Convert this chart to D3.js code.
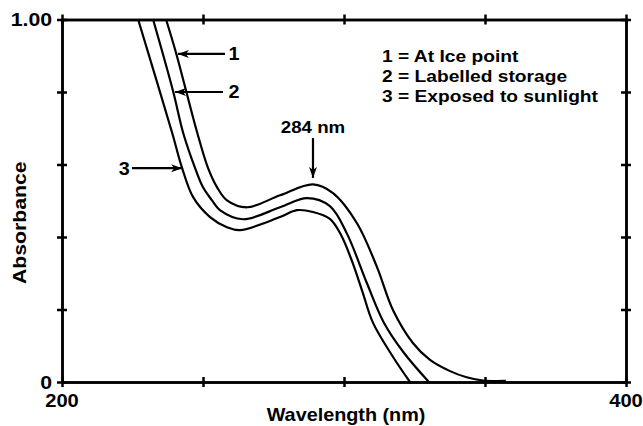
<!DOCTYPE html>
<html><head><meta charset="utf-8">
<script src="https://cdn.jsdelivr.net/npm/d3@7"></script>
<style>
body{margin:0;background:#fff}
svg{display:block}
text{font-family:"Liberation Sans",Arial,Helvetica,sans-serif;font-weight:bold;fill:#000}
</style>
</head><body><svg id="c" width="643" height="426"></svg>
<script>
// ---- data ----
const xTicks = [200, 250, 300, 350, 400];
const yTicks = [0, 0.2, 0.4, 0.6, 0.8, 1.0];
const xTickLabels = ["200", "", "", "", "400"];
const yTickLabels = ["0", "", "", "", "", "1.00"];
const seriesNames = ["1", "2", "3"];
const legendLabels = ["1 = At Ice point", "2 = Labelled storage", "3 = Exposed to sunlight"];
const xTitle = "Wavelength (nm)";
const yTitle = "Absorbance";
const peakLabel = "284 nm";

// series 1: At Ice point
const wl1  = [236.9, 240.4, 247.9, 251.8, 255.0, 258.5, 265.6, 277.3, 289.0, 296.1, 304.6, 311.7, 317.4, 324.5, 330.5, 337.6, 343.5, 349.3, 357.4];
const abs1 = [1.00, 0.909, 0.689, 0.590, 0.537, 0.501, 0.482, 0.515, 0.545, 0.521, 0.438, 0.317, 0.198, 0.107, 0.061, 0.030, 0.013, 0.004, 0.003];
// series 2: Labelled storage
const wl2  = [232.3, 239.4, 242.9, 247.2, 250.0, 253.2, 256.0, 264.2, 277.3, 286.9, 295.0, 301.0, 308.1, 314.2, 321.3, 330.1];
const abs2 = [1.00, 0.802, 0.689, 0.590, 0.537, 0.501, 0.474, 0.449, 0.482, 0.507, 0.485, 0.410, 0.273, 0.163, 0.080, 0.0];
// series 3: Exposed to sunlight
const wl3  = [227.0, 239.0, 242.6, 246.5, 252.5, 258.5, 263.1, 277.3, 283.3, 289.0, 295.0, 299.0, 303.0, 306.5, 310.3, 317.4, 323.4];
const abs3 = [1.00, 0.689, 0.590, 0.510, 0.455, 0.427, 0.419, 0.455, 0.474, 0.469, 0.450, 0.405, 0.330, 0.250, 0.163, 0.069, 0.0];

// annotation anchors in data units [tipX, tipY, tailX, labelX, labelY]
const callout1 = [241.1, 0.905, 257.8, 259.0, 0.888];
const callout2 = [240.1, 0.800, 257.1, 259.0, 0.783];
const callout3 = [242.6, 0.590, 224.8, 224.0, 0.571];
const peakArrow = [289.0, 0.563, 0.673, 0.688];

// ---- drawing ----
const L = 62, R = 626, T = 19.5, B = 382;
const svg = d3.select("#c");
const x = d3.scaleLinear().domain([200, 400]).range([L, R]);
const y = d3.scaleLinear().domain([0, 1]).range([B, T]);

const defs = svg.append("defs");
defs.append("marker").attr("id", "ah").attr("viewBox", "0 -5 12 10")
  .attr("refX", 11).attr("refY", 0).attr("markerWidth", 12).attr("markerHeight", 10)
  .attr("markerUnits", "userSpaceOnUse").attr("orient", "auto")
  .append("path").attr("d", "M0,-4L11,0L0,4L3,0Z").attr("fill", "#000");

function styleAxis(g) {
  g.select(".domain").attr("stroke", "#000").attr("stroke-width", 2.5);
  g.selectAll(".tick line").attr("stroke", "#000").attr("stroke-width", 2.5);
  g.selectAll(".tick text").remove();
}
const ts = 5;
[[B, d3.axisBottom], [B, d3.axisTop], [T, d3.axisBottom], [T, d3.axisTop]].forEach(([yy, f]) => {
  svg.append("g").attr("transform", `translate(0,${yy})`)
    .call(f(x).tickValues(xTicks).tickSize(ts).tickSizeOuter(0)).call(styleAxis);
});
[[L, d3.axisLeft], [L, d3.axisRight], [R, d3.axisLeft], [R, d3.axisRight]].forEach(([xx, f]) => {
  svg.append("g").attr("transform", `translate(${xx},0)`)
    .call(f(y).tickValues(yTicks).tickSize(ts).tickSizeOuter(0)).call(styleAxis);
});

const sx = 1.12;
function stretched(px, py, str, size, anchor, k) {
  const g = svg.append("g").attr("transform", `translate(${px},${py}) scale(${k || sx},1)`);
  return g.append("text").attr("text-anchor", anchor).style("font-size", size + "px").text(str);
}
xTicks.forEach((v, i) => { if (xTickLabels[i]) stretched(x(v), 407, xTickLabels[i], 18, "middle"); });
yTicks.forEach((v, i) => { if (yTickLabels[i]) stretched(L - 10, y(v) + 6.5, yTickLabels[i], 18, "end", 1.18); });

stretched((L + R) / 2 + 2, 421, xTitle, 18, "middle", 1.1);
svg.append("g").attr("transform", `translate(26,${(T + B) / 2 + 22}) rotate(-90) scale(1.18,1)`)
  .append("text").attr("text-anchor", "middle").style("font-size", "18px").text(yTitle);

// curves
const line = d3.line().x(d => x(d[0])).y(d => y(d[1])).curve(d3.curveCatmullRom.alpha(0.5));
[[wl1, abs1], [wl2, abs2], [wl3, abs3]].forEach(([w, a]) => {
  svg.append("path").datum(w.map((v, i) => [v, a[i]]))
    .attr("d", line).attr("fill", "none").attr("stroke", "#000").attr("stroke-width", 2.2);
});

// callouts
[[callout1, "start"], [callout2, "start"], [callout3, "end"]].forEach(([c, anc], i) => {
  svg.append("line").attr("x1", x(c[2])).attr("y1", y(c[1])).attr("x2", x(c[0])).attr("y2", y(c[1]))
    .attr("stroke", "#000").attr("stroke-width", 2.2).attr("marker-end", "url(#ah)");
  stretched(x(c[3]), y(c[4]), seriesNames[i], 18, anc, 1.1);
});
svg.append("line").attr("x1", x(peakArrow[0])).attr("y1", y(peakArrow[2]))
  .attr("x2", x(peakArrow[0])).attr("y2", y(peakArrow[1]))
  .attr("stroke", "#000").attr("stroke-width", 2.2).attr("marker-end", "url(#ah)");
stretched(x(peakArrow[0]), y(peakArrow[3]), peakLabel, 17, "middle", 1.1);

legendLabels.forEach((s, i) => stretched(382, 61.5 + i * 20, s, 17, "start", 1.13));
</script></body></html>
